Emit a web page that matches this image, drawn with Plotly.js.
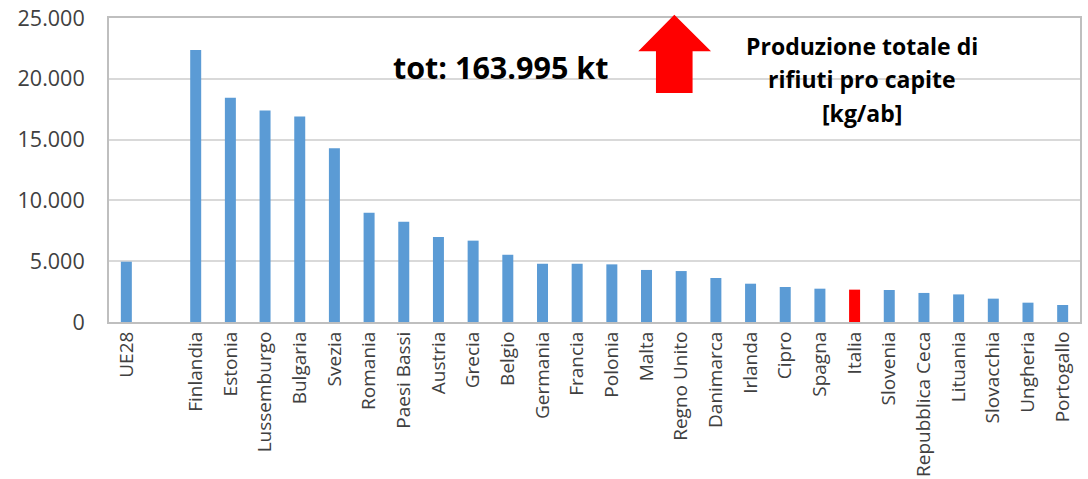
<!DOCTYPE html>
<html>
<head>
<meta charset="utf-8">
<script src="https://cdn.plot.ly/plotly-3.0.1.min.js"></script>
<style>
  html, body { margin: 0; padding: 0; background: #ffffff; }
  #chart { width: 1088px; height: 479px; }
</style>
</head>
<body>
<div id="chart"></div>
<script>
// Categories (the empty " " slot separates UE28 from the countries)
const categories = ["UE28", " ", "Finlandia", "Estonia", "Lussemburgo", "Bulgaria", "Svezia",
  "Romania", "Paesi Bassi", "Austria", "Grecia", "Belgio", "Germania", "Francia", "Polonia",
  "Malta", "Regno Unito", "Danimarca", "Irlanda", "Cipro", "Spagna", "Italia", "Slovenia",
  "Repubblica Ceca", "Lituania", "Slovacchia", "Ungheria", "Portogallo"];

// Total waste production per capita [kg/ab]
const values = [4960, null, 22370, 18440, 17400, 16900, 14280,
  8990, 8250, 6990, 6690, 5530, 4790, 4790, 4740,
  4280, 4190, 3620, 3150, 2880, 2740, 2660, 2630,
  2390, 2270, 1920, 1590, 1400];

const yTicks = [0, 5000, 10000, 15000, 20000, 25000];

const totLabel = "tot: 163.995 kt";
const titleLines = ["Produzione totale di", "rifiuti pro capite", "[kg/ab]"];

const highlight = "Italia";
const blue = "#5B9BD5";
const red = "#FF0000";
const barColors = categories.map(c => c === highlight ? red : blue);

const trace = {
  type: "bar",
  x: categories,
  y: values,
  marker: { color: barColors, line: { width: 0 } },
  hoverinfo: "x+y"
};

// Arrow decoration (paper coordinates)
const arrowPath = "M 0.5822 1.0105 L 0.6200 0.891 L 0.6010 0.891 L 0.6010 0.753 " +
  "L 0.5633 0.753 L 0.5633 0.891 L 0.5451 0.891 Z";

const lineY = [0.9065, 0.7980, 0.6867];

const annotations = [
  {
    xref: "paper", yref: "paper", x: 0.4027, y: 0.8376,
    xanchor: "center", yanchor: "middle", showarrow: false,
    text: "<b>" + totLabel + "</b>",
    font: { family: "Open Sans, sans-serif", size: 30.5, color: "#000000" }
  }
].concat(titleLines.map((t, i) => ({
  xref: "paper", yref: "paper", x: 0.775, y: lineY[i],
  xanchor: "center", yanchor: "middle", showarrow: false,
  text: "<b>" + t + "</b>",
  font: { family: "Open Sans, sans-serif", size: 23, color: "#000000" }
})));

const layout = {
  width: 1088,
  height: 479,
  margin: { l: 109, r: 8, t: 18, b: 157 },
  paper_bgcolor: "#ffffff",
  plot_bgcolor: "#ffffff",
  separators: ",.",
  showlegend: false,
  bargap: 0.683,
  font: { family: "Open Sans, sans-serif", color: "#595959" },
  xaxis: {
    type: "category",
    categoryorder: "array",
    categoryarray: categories,
    tickangle: -90,
    tickfont: { family: "Open Sans, sans-serif", size: 19, color: "#404040" },
    showgrid: false,
    showline: true,
    linecolor: "#BFBFBF",
    linewidth: 2,
    mirror: true,
    ticks: "",
    ticklabelstandoff: 0,
    fixedrange: true
  },
  yaxis: {
    range: [0, 25000],
    tickvals: yTicks,
    tickformat: ",d",
    tickfont: { family: "Open Sans, sans-serif", size: 21.5, color: "#404040" },
    showgrid: true,
    gridcolor: "#D9D9D9",
    gridwidth: 2,
    showline: true,
    linecolor: "#BFBFBF",
    linewidth: 2,
    mirror: true,
    zeroline: false,
    ticks: "",
    ticklabelstandoff: 18,
    fixedrange: true
  },
  shapes: [
    {
      type: "path", xref: "paper", yref: "paper",
      path: arrowPath,
      fillcolor: red,
      line: { width: 0 },
      layer: "above"
    }
  ],
  annotations: annotations
};

Plotly.newPlot("chart", [trace], layout, { displayModeBar: false, staticPlot: true });
</script>
</body>
</html>
